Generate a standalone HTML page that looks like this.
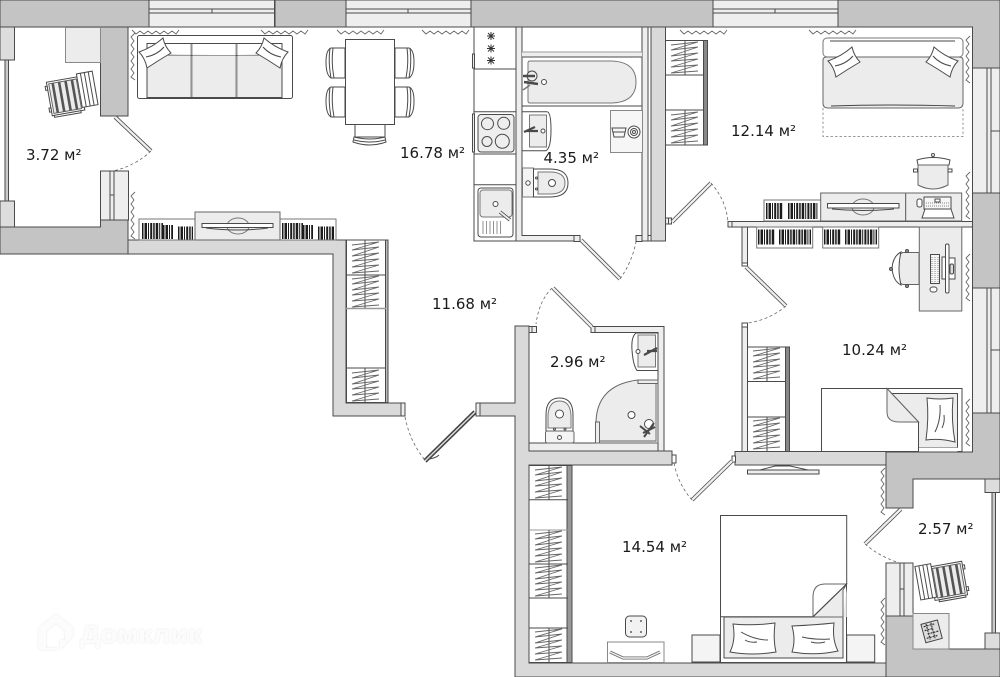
<!DOCTYPE html>
<html><head><meta charset="utf-8">
<style>
html,body{margin:0;padding:0;background:#fff}
svg{display:block}
text.l{font-family:"DejaVu Sans",sans-serif;font-size:15px;fill:#1a1a1a}
.d{fill:#c4c4c4;stroke:#4a4a4a;stroke-width:1}
.w{fill:#d9d9d9;stroke:#4a4a4a;stroke-width:1}
.t{fill:#eee;stroke:#4a4a4a;stroke-width:1}
.f{fill:#ececec;stroke:#666;stroke-width:1}
.n{fill:#fff;stroke:#4a4a4a;stroke-width:1}
.o{fill:none;stroke:#4a4a4a;stroke-width:1}
.g{fill:none;stroke:#666;stroke-width:.9}
.a{fill:none;stroke:#666;stroke-width:.8;stroke-dasharray:3 2.5}
.b{fill:none;stroke:#1c1c1c;stroke-dasharray:1.500 1 2.500 1 1 1.200 2 1}
</style></head><body>
<svg width="1000" height="677" viewBox="0 0 1000 677" xmlns="http://www.w3.org/2000/svg">
<defs>
<polyline id="sq" class="g" points="0,0 4,4 8,1 12,4 16,1 20,4 24,1 28,4 32,1 36,4 40,1 44,4 47,0"/>
<g id="zig">
<polyline class="g" points="6,4 33,1 6,9 33,6 6,15 33,12 6,20 33,18 6,26 33,24 6,32 33,30"/>
</g>
<g id="rc">
<rect x="-23" y="-17" width="33" height="34" class="n"/>
<rect x="-21" y="-15" width="28" height="30" class="f"/>
<path d="M-17,-15V15M-10.500,-15V15M-4,-15V15M2.500,-15V15" stroke="#555" stroke-width="2.600" fill="none"/>
<rect x="-25" y="-13" width="2" height="4" class="n"/><rect x="-25" y="9" width="2" height="4" class="n"/>
<rect x="-21" y="17" width="27" height="2" class="n"/>
<rect x="8" y="-20" width="16" height="34" class="n"/>
<path d="M12,-20V14M16,-20V14M20,-20V14" class="o"/>
</g>
<g id="pl">
<path d="M0,14 Q14,9 24,0 Q26,9 32,15 Q20,22 8,30 Q6,20 0,14Z" class="n"/>
<path d="M7,19 Q18,17 25,9" class="o"/>
</g>
</defs>

<!-- outer dark walls -->
<rect x="0" y="0" width="149" height="27" class="d"/>
<rect x="275" y="0" width="71" height="27" class="d"/>
<rect x="471" y="0" width="242" height="27" class="d"/>
<polygon points="838,0 1000,0 1000,68 972.500,68 972.500,27 838,27" class="d"/>
<rect x="100.500" y="27" width="27.500" height="89" class="d"/>
<polygon points="0,227 100.500,227 100.500,220 128,220 128,254 0,254" class="d"/>
<rect x="972.500" y="193" width="27.500" height="95" class="d"/>
<polygon points="886,452 972.500,452 972.500,413 1000,413 1000,479 913,479 913,508 886,508" class="d"/>
<polygon points="886,616 913,616 913,649 1000,649 1000,677 886,677" class="d"/>

<!-- windows top -->
<g class="t">
<rect x="149" y="0" width="125.500" height="27"/><rect x="346" y="0" width="125" height="27"/><rect x="713" y="0" width="125" height="27"/>
</g>
<path d="M149,9H274M149,13H274M212,9V13M346,9H471M346,13H471M408,9V13M713,9H838M713,13H838M775,9V13" class="o" stroke-width=".9"/>
<!-- windows right -->
<rect x="972.500" y="68" width="27.500" height="125" class="t"/><rect x="972.500" y="288" width="27.500" height="125" class="t"/>
<path d="M987,68V193M991,68V193M991,131H1000M987,288V413M991,288V413M991,350H1000" class="o"/>
<!-- balcony left -->
<rect x="0" y="27" width="14.500" height="33" fill="#ddd" stroke="#4a4a4a"/>
<rect x="0" y="201" width="14.500" height="26" fill="#ddd" stroke="#4a4a4a"/>
<rect x="5" y="60" width="3.500" height="141" fill="#ccc" stroke="#4a4a4a"/>
<rect x="65.500" y="27.500" width="35" height="35" fill="#ececec" stroke="#888"/>
<rect x="100.500" y="171" width="28" height="49" fill="#eee" stroke="#4a4a4a"/>
<path d="M110,171V220M114,171V220M110,195H114" class="o"/>
<!-- balcony right -->
<rect x="985" y="479" width="15" height="13.500" fill="#ddd" stroke="#4a4a4a"/>
<rect x="985" y="633" width="15" height="16" fill="#ddd" stroke="#4a4a4a"/>
<rect x="992" y="492.500" width="3.500" height="140.500" fill="#ccc" stroke="#4a4a4a"/>
<rect x="886" y="563" width="27" height="53" fill="#eee" stroke="#4a4a4a"/>
<path d="M900,563V616M904,563V616M900,589H904" class="o"/>
<rect x="913" y="613.500" width="36" height="35.500" fill="#ececec" stroke="#888"/>
<g transform="translate(931,631) rotate(-15)"><rect x="-8" y="-9" width="17" height="19" fill="#ddd" stroke="#444"/><path d="M-6,-6H6M-6,-2H3M-4,2H7M-6,6H5M-3,-8V8M2,-8V8" stroke="#333" stroke-width="1.200" fill="none" stroke-dasharray="2 1"/></g>

<!-- living lower walls -->
<polygon points="128,240 346,240 346,403 405,403 405,416 333,416 333,254 128,254" class="w"/>
<rect x="401" y="403" width="4" height="13" class="t"/>
<polygon points="515,326 529,326 529,451 672,451 672,465 529,465 529,663 886,663 886,677 515,677 515,416 476,416 476,403 515,403" class="w"/>
<rect x="476" y="403" width="4" height="13" class="t"/>
<rect x="672" y="455" width="4" height="8" class="n"/>
<!-- 2.96 room thin walls -->
<polygon points="595,326.500 664,326.500 664,451 658,451 658,332.500 595,332.500" class="t"/>
<rect x="529" y="326.500" width="7" height="6" class="t"/><rect x="532" y="326.500" width="4.500" height="6" class="t"/>
<rect x="591" y="326.500" width="4" height="6" class="t"/>
<rect x="529" y="443" width="129" height="8" class="t"/>
<!-- kitchen wall / bath walls -->
<polygon points="516,27 522,27 522,235.500 578,235.500 578,241 516,241" class="t"/>
<rect x="574" y="235.500" width="6" height="6" class="t"/>
<rect x="642" y="27" width="6" height="214" class="t"/>
<rect x="651" y="27" width="14.500" height="214" fill="#d9d9d9" stroke="#4a4a4a"/>
<rect x="636" y="235.500" width="6" height="6" class="t"/><path d="M648,235.500H651V241H648" class="o"/>
<rect x="522" y="27" width="120" height="25" class="n"/>
<rect x="522" y="52" width="120" height="5" fill="#eee" stroke="none"/>
<path d="M522,52H642" stroke="#999" stroke-width="1"/>
<!-- bedroom partition -->
<rect x="728" y="221.500" width="244.500" height="5.500" class="t"/><rect x="728" y="221.500" width="4" height="5.500" class="t"/>
<rect x="742" y="227" width="5.500" height="39" class="t"/><rect x="742" y="263" width="5.500" height="3" fill="#fff" stroke="#4a4a4a"/>
<rect x="742" y="323" width="5.500" height="128.500" class="t"/><rect x="742" y="323" width="5.500" height="4" fill="#fff" stroke="#4a4a4a"/>
<rect x="735" y="451.500" width="151" height="13.500" class="w"/>
<rect x="732" y="456" width="3.500" height="6" class="n"/>
<rect x="665.500" y="218" width="6" height="6" class="t"/><path d="M668.500,218V224" class="o"/>
<!-- outer bounds -->
<path d="M128,27H149M274.500,27H346M471,27H713M838,27H972.500V452" class="o"/>
<path d="M128,27V116" class="o"/>

<!-- doors -->
<g stroke-linecap="butt">
<g stroke="#4a4a4a" stroke-width="4">
<line x1="115" y1="117" x2="151" y2="151"/><line x1="581" y1="240" x2="620" y2="279"/><line x1="553" y1="288" x2="592" y2="327"/><line x1="672" y1="222" x2="711" y2="183"/><line x1="746" y1="267" x2="786" y2="306"/><line x1="732" y1="461" x2="692" y2="500"/><line x1="901" y1="509" x2="865" y2="544"/>
</g>
<g stroke="#eee" stroke-width="2.400">
<line x1="115" y1="117" x2="151" y2="151"/><line x1="581" y1="240" x2="620" y2="279"/><line x1="553" y1="288" x2="592" y2="327"/><line x1="672" y1="222" x2="711" y2="183"/><line x1="746" y1="267" x2="786" y2="306"/><line x1="732" y1="461" x2="692" y2="500"/><line x1="901" y1="509" x2="865" y2="544"/>
</g>
<line x1="475" y1="412" x2="425" y2="461" stroke="#444" stroke-width="4.500"/>
<line x1="475" y1="412" x2="425" y2="461" stroke="#ddd" stroke-width="1.500"/>
<path d="M429,459 Q436,458 439,455" class="o"/>
</g>
<path class="a" d="M151,151 Q135,166 113,171"/>
<path class="a" d="M620,279 Q632,262 636,242"/>
<path class="a" d="M552,288 Q539,301 536,324"/>
<path class="a" d="M405,417 Q410,442 425,460"/>
<path class="a" d="M711,183 Q726,200 728,222"/>
<path class="a" d="M786,306 Q769,320 748,323"/>
<path class="a" d="M692,500 Q678,484 674,463"/>
<path class="a" d="M865,544 Q880,557 900,563"/>

<!-- squiggles -->
<use href="#sq" x="132" y="30"/><use href="#sq" x="261" y="30"/><use href="#sq" x="337" y="30"/><use href="#sq" x="422" y="30"/><use href="#sq" x="680" y="30"/><use href="#sq" x="809" y="30"/>
<use href="#sq" transform="translate(135,33) rotate(90)"/>
<use href="#sq" transform="translate(135,192) rotate(90)"/>
<use href="#sq" transform="translate(970,36) rotate(90)"/>
<use href="#sq" transform="translate(970,172) rotate(90)"/>
<use href="#sq" transform="translate(970,254) rotate(90)"/>
<use href="#sq" transform="translate(970,399) rotate(90)"/>
<use href="#sq" transform="translate(885,468) rotate(90)"/>
<use href="#sq" transform="translate(885,598) rotate(90)"/>

<!-- Recliners -->
<use href="#rc" transform="translate(72,95) rotate(-10)"/>
<use href="#rc" transform="translate(942,582) rotate(-10) scale(-1,1)"/>

<!-- Sofa -->
<rect x="137.500" y="35.500" width="155" height="63" rx="2" class="n"/>
<rect x="147" y="43.500" width="135" height="54" class="n"/>
<path d="M147,55 Q215,56 282,55" class="o"/>
<path d="M147.500,55.500H191V97H147.500ZM192.500,55.500H236V97H192.500ZM237.500,55.500H281.500V97H237.500Z" fill="#ececec" stroke="none"/>
<path d="M191,43V98M192,43V98M236,43V98M237,43V98" stroke="#4a4a4a" stroke-width=".6"/>
<use href="#pl" transform="translate(139,38)"/>
<use href="#pl" transform="translate(288,38) scale(-1,1)"/>

<!-- Table and chairs -->
<g>
<path d="M345,48H331Q326,50 326,62Q326,75 331,78H345ZM345,87H331Q326,89 326,101Q326,114 331,117H345Z" class="n"/>
<path d="M330,48Q328,62 331,78M333,48Q331,62 334,78M330,87Q328,101 331,117M333,87Q331,101 334,117" class="o"/>
<path d="M395,48H409Q414,50 414,62Q414,75 409,78H395ZM395,87H409Q414,89 414,101Q414,114 409,117H395Z" class="n"/>
<path d="M410,48Q412,62 409,78M407,48Q409,62 406,78M410,87Q412,101 409,117M407,87Q409,101 406,117" class="o"/>
<path d="M355,124V137H385V124" class="n"/>
<path d="M353,142Q370,148 386,142L385,137Q370,141 354,137Z" class="n"/>
<path d="M354,140Q370,144 385,140" class="o"/>
<rect x="345.500" y="39.500" width="49" height="85" class="n"/>
</g>

<!-- Kitchen -->
<rect x="474" y="27" width="42" height="214" class="n"/>
<path d="M474,69H516M474,111.700H516M474,154H516M474,184.700H516" class="o"/>
<rect x="472.500" y="54" width="2" height="14" class="t"/><rect x="472.500" y="114" width="2" height="38" class="t"/>
<g stroke="#333" stroke-width="1" fill="none">
<path d="M487,36H495M491,32V40M488,33L494,39M494,33L488,39"/>
<path d="M487,48.500H495M491,44.500V52.500M488,45.500L494,51.500M494,45.500L488,51.500"/>
<path d="M487,60.500H495M491,56.500V64.500M488,57.500L494,63.500M494,57.500L488,63.500"/>
</g>
<rect x="478" y="114.500" width="36" height="37.500" rx="3" fill="#eee" stroke="#4a4a4a"/>
<circle cx="487.500" cy="123.700" r="6" fill="#eee" stroke="#4a4a4a"/><circle cx="503.700" cy="123.300" r="6" fill="#eee" stroke="#4a4a4a"/><circle cx="487" cy="141.500" r="5" fill="#eee" stroke="#4a4a4a"/><circle cx="502.300" cy="141.300" r="7" fill="#eee" stroke="#4a4a4a"/>
<rect x="478" y="188" width="35" height="49" rx="3" class="n"/>
<rect x="480" y="190" width="32" height="27" rx="3" fill="#ececec" stroke="#777"/>
<circle cx="495.500" cy="204" r="2.500" class="n"/>
<path d="M500,212L510,220" stroke="#4a4a4a" stroke-width="3.500"/><path d="M500,212L510,220" stroke="#eee" stroke-width="1.800"/>
<path d="M483,221V234M486.500,221V234M490,221V234M493.500,221V234M497,221V234M500.500,221V234" stroke="#777" stroke-width=".8"/>

<!-- Bathroom 4.35 -->
<rect x="522" y="57" width="120" height="49" class="n"/>
<path d="M530,61H612Q636,62 636,82Q636,102 612,103H530Q528,103 528,101V63Q528,61 530,61Z" fill="#ececec" stroke="#777"/>
<circle cx="532" cy="76" r="5" fill="#eee" stroke="#4a4a4a"/>
<path d="M523,76H535M524,82L538,84" stroke="#4a4a4a" stroke-width="2.500"/>
<path d="M523,90L530,85" stroke="#777" stroke-width="1.500"/>
<circle cx="544" cy="82" r="2.500" class="n"/>
<path d="M522,111.700H547Q551,112 551,130Q551,148 546,150.700H522Z" class="n"/>
<rect x="529.500" y="115" width="17" height="32" fill="#ececec" stroke="#777"/>
<path d="M524,132L535,127M526,131H538" stroke="#4a4a4a" stroke-width="2.200"/>
<circle cx="543" cy="131" r="2" class="n"/>
<rect x="610.500" y="110.500" width="32" height="42" fill="#f6f6f6" stroke="#888"/>
<path d="M612,128H626L624,137H614ZM613,132H625" class="o"/>
<circle cx="634" cy="132" r="6" class="n"/><circle cx="634" cy="132" r="3.500" class="o"/><circle cx="634" cy="132" r="1.500" class="o"/>
<rect x="522.500" y="168" width="11" height="29" fill="#f4f4f4" stroke="#777"/>
<circle cx="528" cy="183" r="2.200" class="n"/>
<path d="M533.500,169H550Q568,169 568,183Q568,197 550,197H533.500Z" class="n"/>
<path d="M538,172H550Q565,172 565,183Q565,194 550,194H538Z" fill="#ececec" stroke="#777"/>
<circle cx="552" cy="183" r="3.500" class="n"/>
<circle cx="536.500" cy="178" r="1" class="n"/><circle cx="536.500" cy="189" r="1" class="n"/>

<!-- 2.96 fixtures -->
<path d="M658,333H636Q631,337 632,350Q633,365 637,370.500H658Z" class="n"/>
<rect x="638" y="335" width="17.500" height="32" fill="#ececec" stroke="#777"/>
<path d="M644,355L657,348M647,351H657" stroke="#4a4a4a" stroke-width="2.200"/>
<circle cx="638" cy="351.500" r="2" class="n"/>
<path d="M638,380H658V443H596V422Q597,385 638,380Z" fill="#ececec" stroke="#666"/>
<rect x="638" y="380" width="20" height="3.500" fill="#eee" stroke="#666"/>
<rect x="595.500" y="422" width="4" height="21" fill="#eee" stroke="#666"/>
<path d="M599,441H656V384" class="g"/>
<circle cx="631.500" cy="415" r="3.500" class="n"/>
<circle cx="649" cy="424" r="4.500" class="n"/>
<path d="M640,426L650,434M643,433L655,427M644,437L654,423" stroke="#4a4a4a" stroke-width="2" fill="none"/>
<path d="M546,431V415Q546,398 559.500,398Q573,398 573,415V431Z" class="n"/>
<path d="M548,428V415Q549,401 559.500,401Q570,401 571,415V428Z" fill="#ececec" stroke="#777"/>
<circle cx="559.500" cy="414" r="4" class="n"/>
<rect x="545.500" y="431" width="28.500" height="12" rx="2" fill="#f4f4f4" stroke="#666"/>
<circle cx="559.500" cy="437.500" r="2" class="n"/>
<circle cx="554.500" cy="429" r="1" class="n"/><circle cx="565" cy="429" r="1" class="n"/>

<!-- Wardrobes -->
<g>
<rect x="346.500" y="240" width="39" height="162.500" class="n"/>
<rect x="385.500" y="240" width="2.500" height="162.500" fill="#bbb" stroke="#4a4a4a"/>
<path d="M346,275H386M346,368H386M346,402.500H386" class="o"/>
<path d="M346,308.500H386" stroke="#999" stroke-width="1.500"/>
<path d="M365,240V308M365,368V402" class="o"/>
<use href="#zig" x="346" y="241"/><use href="#zig" x="346" y="275"/><use href="#zig" x="346" y="369"/>
</g>
<g>
<rect x="665.500" y="40.500" width="38" height="104.500" class="n"/>
<rect x="703.500" y="40.500" width="4" height="104.500" fill="#888" stroke="#4a4a4a"/>
<path d="M665,75H704M665,110H704M665,145H704" class="o"/>
<path d="M685,41V75M685,110V145" class="o"/>
<use href="#zig" x="665" y="41"/><use href="#zig" x="665" y="111"/>
</g>
<g>
<rect x="747.500" y="347" width="38" height="104.500" class="n"/>
<rect x="785.500" y="347" width="4" height="104.500" fill="#888" stroke="#4a4a4a"/>
<path d="M747,381.500H786M747,417H786" class="o"/>
<path d="M767,347V381M767,417V451" class="o"/>
<use href="#zig" x="747" y="347"/><use href="#zig" x="747" y="417"/>
</g>
<g>
<rect x="529" y="465.500" width="38" height="197" class="n"/>
<rect x="567" y="465.500" width="5" height="197" fill="#999" stroke="#4a4a4a"/>
<path d="M529,499.700H568M529,598H568M529,628H568M529,564H568" class="o"/>
<path d="M529,530H568" stroke="#999"/>
<path d="M549,466V500M549,530V598M549,628V662" class="o"/>
<use href="#zig" x="529" y="466"/><use href="#zig" x="529" y="530"/><use href="#zig" x="529" y="564"/><use href="#zig" x="529" y="628"/>
</g>

<!-- Living TV + shelves -->
<rect x="139" y="219" width="56" height="21" fill="#fff" stroke="#777"/>
<rect x="280" y="219" width="56" height="21" fill="#fff" stroke="#777"/>
<line class="b" x1="142" y1="231" x2="163" y2="231" stroke-width="16"/><line class="b" x1="163" y1="232" x2="173" y2="232" stroke-width="14"/><line class="b" x1="178" y1="233" x2="193" y2="233" stroke-width="13"/>
<line class="b" x1="282" y1="231" x2="303" y2="231" stroke-width="16"/><line class="b" x1="303" y1="232" x2="313" y2="232" stroke-width="14"/><line class="b" x1="318" y1="233" x2="334" y2="233" stroke-width="13"/>
<rect x="195" y="212" width="85" height="28" class="f"/>
<ellipse cx="238" cy="226" rx="11" ry="8" fill="none" stroke="#777"/>
<rect x="202" y="223.500" width="71" height="4" class="n"/>
<path d="M206,228Q238,232 268,228" class="o"/>

<!-- 12.14 room items -->
<rect x="764" y="200" width="57" height="21" fill="#fff" stroke="#777"/>
<line class="b" x1="766" y1="211" x2="783" y2="211" stroke-width="16"/><line class="b" x1="788" y1="211" x2="818" y2="211" stroke-width="16"/>
<rect x="820.700" y="193" width="85" height="28" class="f"/>
<ellipse cx="863" cy="207" rx="11" ry="8" fill="none" stroke="#777"/>
<rect x="827.500" y="203.500" width="71.500" height="4.500" class="n"/>
<path d="M832,209Q863,212 894,209" class="o"/>
<rect x="905.700" y="193" width="56" height="28" class="f"/>
<rect x="917" y="199" width="5" height="8" rx="2" class="n"/>
<path d="M924,197H951V209H924Z" fill="#f6f6f6" stroke="#4a4a4a"/>
<rect x="935" y="199" width="5" height="3" class="n"/>
<path d="M926,203H950M926,206H950" stroke="#888" stroke-dasharray="1 1"/>
<path d="M925,209L922,218H954L951,209Z" class="n"/>
<rect x="756.700" y="227" width="56" height="21" fill="#fff" stroke="#777"/>
<rect x="822.700" y="227" width="56" height="21" fill="#fff" stroke="#777"/>
<line class="b" x1="758" y1="237" x2="775" y2="237" stroke-width="15"/><line class="b" x1="779" y1="237" x2="811" y2="237" stroke-width="15"/>
<line class="b" x1="824" y1="237" x2="841" y2="237" stroke-width="15"/><line class="b" x1="845" y1="237" x2="877" y2="237" stroke-width="15"/>
<!-- Bed 12.14 -->
<rect x="823" y="38" width="140" height="19" rx="4" fill="#fff" stroke="#777"/>
<path d="M830,41H955" stroke="#4a4a4a"/>
<path d="M823,60Q823,57 827,57H959Q963,57 963,60V103Q963,108 958,108H828Q823,108 823,103Z" fill="#ececec" stroke="#666"/>
<path d="M831,106Q890,104 955,106" stroke="#444" fill="none"/>
<use href="#pl" transform="translate(828,47) rotate(0)"/>
<use href="#pl" transform="translate(958,47) scale(-1,1)"/>
<path d="M823,108V136.500H963V108" fill="none" stroke="#999" stroke-dasharray="2.500 2"/>
<!-- chair 12.14 -->
<path d="M917,160Q933,155 950,160L949,165H918Z" class="n"/>
<circle cx="933" cy="155" r="1.500" class="n"/>
<path d="M918,165V185Q933,193 948,185V165Z" fill="#ececec" stroke="#666"/>
<rect x="913.500" y="169" width="4" height="3" class="n"/><rect x="948" y="169" width="4" height="3" class="n"/>

<!-- Desk 10.24 -->
<rect x="919.300" y="227" width="42.500" height="84" class="f"/>
<path d="M919,252.500H903Q897,254 897,268Q897,283 903,284.500H919Z" fill="#ececec" stroke="#666"/>
<path d="M901,252Q893,256 892,268Q893,281 901,285Q897,268 901,252Z" class="n"/>
<circle cx="907" cy="251" r="1.500" fill="#999" stroke="#4a4a4a"/><circle cx="907" cy="286" r="1.500" fill="#999" stroke="#4a4a4a"/><circle cx="891" cy="269" r="1.500" fill="#999" stroke="#4a4a4a"/>
<rect x="930.500" y="254.500" width="9" height="29" fill="#f6f6f6" stroke="#4a4a4a"/>
<path d="M932,257V282M935,257V282M938,257V282" stroke="#888" stroke-dasharray="1 1"/>
<rect x="930" y="287" width="7" height="5" rx="2.500" class="n"/>
<rect x="945.500" y="244" width="3.500" height="49" rx="1.500" class="n"/>
<rect x="942" y="257" width="3.500" height="22" class="n"/><rect x="949" y="258" width="6" height="21" class="n"/>
<rect x="950" y="264" width="3.500" height="10" rx="1.500" fill="#ddd" stroke="#4a4a4a"/>

<!-- Bed 10.24 -->
<rect x="821.500" y="388.500" width="140.500" height="63" class="n"/>
<rect x="887" y="393.500" width="70.500" height="54" fill="#ececec" stroke="#4a4a4a"/>
<path d="M821.500,451.500V388.500H887L918.500,422V451.500Z" fill="#fff" stroke="#4a4a4a"/>
<path d="M887,388.500V412Q887,422 899,422H918.500L887,388.500Z" fill="#ececec" stroke="#666"/>
<rect x="918.500" y="447.500" width="39" height="4" fill="#fff" stroke="none"/>
<path d="M918.500,422V451.500" class="o"/>
<path d="M927,398Q940,400 953,398Q951,420 955,442Q940,438 926,440Q929,418 927,398Z" fill="#fff" stroke="#4a4a4a"/>
<path d="M935,432Q941,420 940,405M942,428Q945,422 944,415" class="o"/>

<!-- TV stand bedroom -->
<path d="M760,470L775,466H790L808,470" class="o"/>
<rect x="747.500" y="470" width="71.500" height="4" class="t"/>

<!-- Bed 14.54 -->
<rect x="692" y="635" width="28" height="27" fill="#f4f4f4" stroke="#4a4a4a"/>
<rect x="846.700" y="635" width="28" height="27" fill="#f4f4f4" stroke="#4a4a4a"/>
<rect x="720.500" y="515.500" width="126" height="147" class="n"/>
<rect x="724" y="617" width="119" height="41" fill="#ececec" stroke="#4a4a4a"/>
<path d="M843,617H846.700V588Z" fill="#ececec"/>
<path d="M720.500,616.700H813L846.700,584V515.500H720.500Z" fill="#fff" stroke="#4a4a4a"/>
<path d="M846.700,584H825Q813,584 813,597V616.700Z" fill="#fff" stroke="#666"/>
<path d="M846.700,584L843,590V617H813Z" fill="#ececec" stroke="#666"/>
<path d="M813,616.700L846.700,584" class="o"/>
<path d="M733,624Q752,626 775,623Q773,640 776,652Q752,656 730,652Q736,640 733,624Z" fill="#fff" stroke="#4a4a4a"/>
<path d="M792,626Q815,625 834,623Q832,640 838,651Q815,656 792,652Q796,640 792,626Z" fill="#fff" stroke="#4a4a4a"/>
<path d="M741,632Q755,640 768,640M745,640Q750,643 757,642M802,637Q815,640 830,639M811,642Q818,644 825,642" class="o"/>
<!-- dresser + stool -->
<rect x="607.500" y="642" width="56.500" height="20.500" fill="#fff" stroke="#888"/>
<path d="M610,652L623,658H647L660,652" fill="none" stroke="#666" stroke-width="3"/>
<path d="M610,652L623,658H647L660,652" fill="none" stroke="#eee" stroke-width="1.500"/>
<rect x="625.500" y="616" width="21" height="21" rx="4" fill="#f2f2f2" stroke="#4a4a4a"/>
<circle cx="631" cy="621" r=".9" fill="#333"/><circle cx="641" cy="621" r=".9" fill="#333"/><circle cx="631" cy="632" r=".9" fill="#333"/><circle cx="641" cy="632" r=".9" fill="#333"/>

<!-- Watermark -->
<g style="filter:drop-shadow(0 0 1px rgba(0,0,0,.10))">
<path d="M39,628L56,614L73,628V636L60,650V640H65V631L56,623L46,631V648H57V650H42Q38,650 38,646Z" fill="#fcfcfc"/>
<text x="80" y="643" font-family="Liberation Sans,sans-serif" font-weight="700" font-size="25" fill="#fcfcfc" textLength="122" lengthAdjust="spacingAndGlyphs">Домклик</text>
</g>

<!-- Labels -->
<text class="l" x="26" y="160">3.72 м²</text>
<text class="l" x="400" y="158">16.78 м²</text>
<text class="l" x="543.500" y="163">4.35 м²</text>
<text class="l" x="731" y="136">12.14 м²</text>
<text class="l" x="432" y="309">11.68 м²</text>
<text class="l" x="550" y="367">2.96 м²</text>
<text class="l" x="842" y="355">10.24 м²</text>
<text class="l" x="622" y="552">14.54 м²</text>
<text class="l" x="918" y="534">2.57 м²</text>
</svg>
</body></html>
